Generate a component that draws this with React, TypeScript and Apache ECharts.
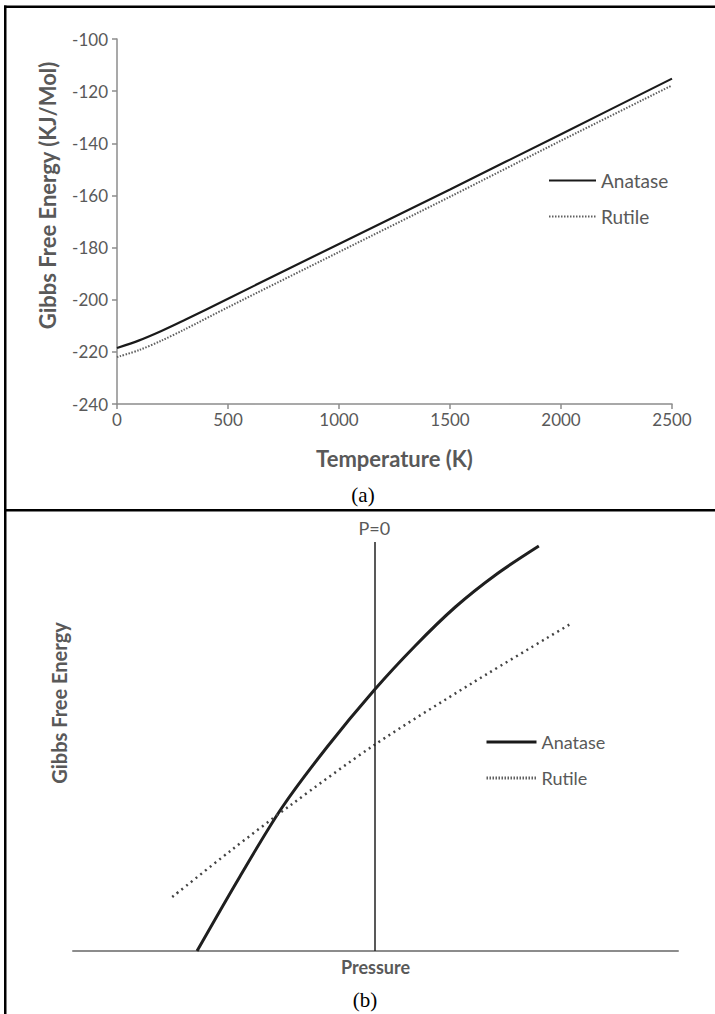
import React, { useEffect, useRef } from "react";
import * as echarts from "echarts";

// ---- Chart (a): Gibbs free energy vs temperature ----
const tempTicks = [0, 500, 1000, 1500, 2000, 2500];
const anataseTemp: number[][] = [
  [0, -218.5], [100, -215.6], [200, -212], [300, -208], [500, -199.6],
  [1000, -178.6], [1500, -157.7], [2000, -136.5], [2500, -115.2],
];
const rutileTemp: number[][] = [
  [0, -222], [100, -219.3], [200, -215.7], [300, -211.6], [500, -202.9],
  [1000, -181.7], [1500, -160.5], [2000, -139], [2500, -117.8],
];

// ---- Chart (b): schematic Gibbs free energy vs pressure ----
const anatasePressure: number[][] = [
  [20.5, 0], [27.5, 18.4], [34.5, 35.75], [42, 51], [49.8, 65.25],
  [56.5, 76.2], [63.2, 86], [70, 94.2], [77, 101.25],
];
const rutilePressure: number[][] = [
  [16.4, 13.5], [26, 25], [36, 36.5], [49.8, 51.5], [66, 67], [82.5, 82],
];
const pZero = 49.8;
const pZeroTop = 102.25;

const FONT = "Lato, 'Open Sans', sans-serif";
const GREY = "#595959";
const AXIS = "#8c8c8c";

export default function App() {
  const ref = useRef<HTMLDivElement>(null);
  useEffect(() => {
    if (!ref.current) return;
    const chart = echarts.init(ref.current, undefined, { renderer: "svg" });
    chart.setOption({
      animation: false,
      backgroundColor: "#ffffff",
      textStyle: { fontFamily: FONT },
      grid: [
        { left: 117, top: 39, width: 555, height: 365, outerBoundsMode: "none" },
        { left: 73, top: 511, width: 605, height: 440, outerBoundsMode: "none" },
      ],
      xAxis: [
        {
          gridIndex: 0,
          type: "value",
          min: tempTicks[0],
          max: tempTicks[tempTicks.length - 1],
          interval: 500,
          axisLine: { show: true, lineStyle: { color: AXIS, width: 1.5 } },
          axisTick: { show: true, length: 5, lineStyle: { color: AXIS, width: 1.5 } },
          splitLine: { show: false },
          axisLabel: {
            color: GREY, fontSize: 17, margin: 7, fontFamily: FONT,
            formatter: (v: number) => String(v),
          },
          name: "Temperature (K)",
          nameLocation: "middle",
          nameGap: 43,
          nameTextStyle: { color: GREY, fontSize: 22, fontWeight: "bold", fontFamily: FONT },
        },
        {
          gridIndex: 1,
          type: "value",
          min: 0,
          max: 100,
          axisLine: { show: true, lineStyle: { color: AXIS, width: 2 } },
          axisTick: { show: false },
          axisLabel: { show: false },
          splitLine: { show: false },
          name: "Pressure",
          nameLocation: "middle",
          nameGap: 7,
          nameTextStyle: { color: GREY, fontSize: 18, fontWeight: "bold", fontFamily: FONT },
        },
      ],
      yAxis: [
        {
          gridIndex: 0,
          type: "value",
          min: -240,
          max: -100,
          interval: 20,
          axisLine: { show: true, lineStyle: { color: AXIS, width: 1.5 } },
          axisTick: { show: true, length: 5, lineStyle: { color: AXIS, width: 1.5 } },
          splitLine: { show: false },
          axisLabel: { color: GREY, fontSize: 17, margin: 9, fontFamily: FONT },
          name: "Gibbs Free Energy (KJ/Mol)",
          nameLocation: "middle",
          nameGap: 59,
          nameTextStyle: {
            color: GREY, fontSize: 22, fontWeight: "bold", fontFamily: FONT,
            padding: [0, 0, 0, 52],
          },
        },
        {
          gridIndex: 1,
          type: "value",
          min: 0,
          max: 110,
          axisLine: { show: false },
          axisTick: { show: false },
          axisLabel: { show: false },
          splitLine: { show: false },
          name: "Gibbs Free Energy",
          nameLocation: "middle",
          nameGap: 4,
          nameTextStyle: {
            color: GREY, fontSize: 20, fontWeight: "bold", fontFamily: FONT,
            padding: [0, 0, 0, 56],
          },
        },
      ],
      legend: [
        {
          data: ["Anatase", "Rutile"],
          orient: "vertical",
          left: 548,
          top: 171,
          padding: 0,
          itemWidth: 47,
          itemHeight: 20,
          itemGap: 17,
          selectedMode: false,
          itemStyle: { opacity: 0 },
          textStyle: { color: GREY, fontSize: 19, fontFamily: FONT },
        },
        {
          data: ["Anatase", "Rutile"],
          orient: "vertical",
          left: 485,
          top: 733,
          padding: 0,
          itemWidth: 50,
          itemHeight: 20,
          itemGap: 18,
          selectedMode: false,
          itemStyle: { opacity: 0 },
          lineStyle: { width: 3 },
          textStyle: { color: GREY, fontSize: 18, fontFamily: FONT },
        },
      ],
      series: [
        {
          name: "Anatase",
          type: "line",
          xAxisIndex: 0,
          yAxisIndex: 0,
          data: anataseTemp,
          symbol: "none",
          showSymbol: false,
          smooth: 0.3,
          lineStyle: { color: "#1a1a1a", width: 2.2 },
          itemStyle: { color: "#1a1a1a" },
        },
        {
          name: "Rutile",
          type: "line",
          xAxisIndex: 0,
          yAxisIndex: 0,
          data: rutileTemp,
          symbol: "none",
          showSymbol: false,
          smooth: 0.3,
          lineStyle: { color: "#606060", width: 2, type: [1.5, 1.5] },
          itemStyle: { color: "#606060" },
        },
        {
          name: "Anatase",
          type: "line",
          xAxisIndex: 1,
          yAxisIndex: 1,
          data: anatasePressure,
          symbol: "none",
          showSymbol: false,
          smooth: 0.3,
          lineStyle: { color: "#1f1f1f", width: 3 },
          itemStyle: { color: "#1f1f1f" },
          markLine: {
            silent: true,
            symbol: "none",
            lineStyle: { color: "#222", width: 1.5, type: "solid" },
            label: {
              show: true,
              formatter: "P=0",
              position: "end",
              distance: 5,
              color: GREY,
              fontSize: 18,
              fontFamily: FONT,
            },
            data: [[{ coord: [pZero, 0] }, { coord: [pZero, pZeroTop] }]],
          },
        },
        {
          name: "Rutile",
          type: "line",
          xAxisIndex: 1,
          yAxisIndex: 1,
          data: rutilePressure,
          symbol: "none",
          showSymbol: false,
          smooth: 0.3,
          lineStyle: { color: "#444", width: 2.5, type: [2, 4] },
          itemStyle: { color: "#444" },
        },
      ],
      graphic: [
        { type: "rect", shape: { x: 4, y: 5.5, width: 715, height: 2.5 }, style: { fill: "#000" } },
        { type: "rect", shape: { x: 4, y: 5.5, width: 2.5, height: 1010 }, style: { fill: "#000" } },
        { type: "rect", shape: { x: 4, y: 509, width: 715, height: 2.5 }, style: { fill: "#000" } },
        {
          type: "text",
          x: 363,
          y: 495,
          style: {
            text: "(a)", fill: "#000", font: "21px 'Liberation Serif', 'Times New Roman', serif",
            align: "center", verticalAlign: "middle",
          },
        },
        {
          type: "text",
          x: 365,
          y: 1000,
          style: {
            text: "(b)", fill: "#000", font: "21px 'Liberation Serif', 'Times New Roman', serif",
            align: "center", verticalAlign: "middle",
          },
        },
      ],
    });
    return () => chart.dispose();
  }, []);
  return (
    <div
      ref={ref}
      style={{ position: "absolute", left: 0, top: 0, width: 715, height: 1014, background: "#fff" }}
    />
  );
}
